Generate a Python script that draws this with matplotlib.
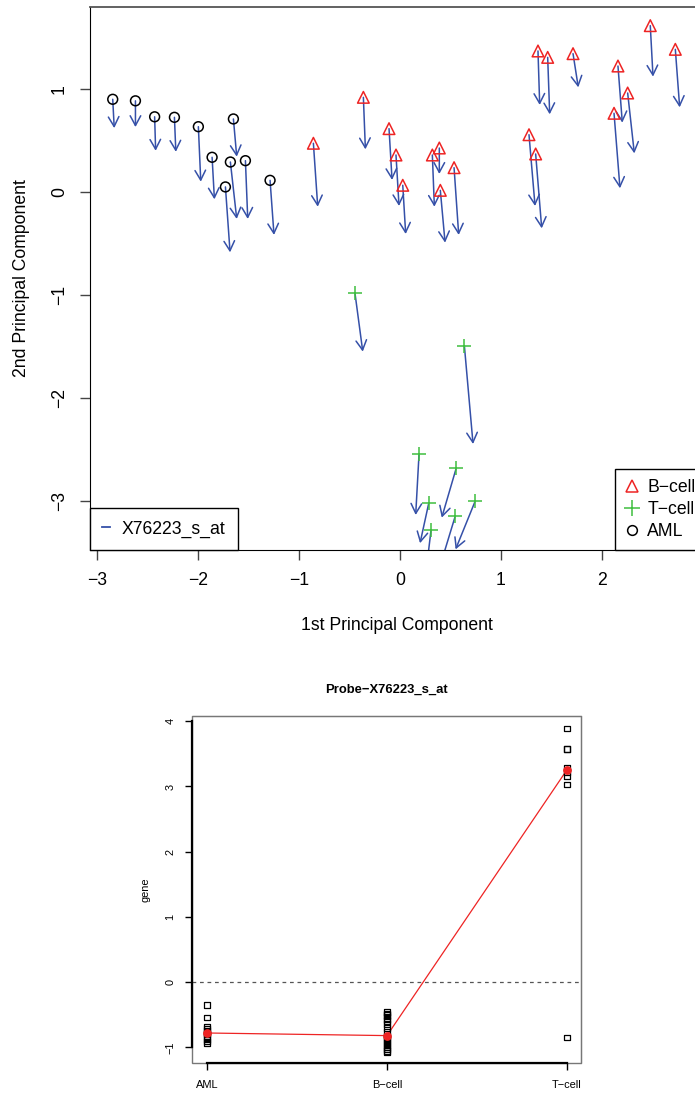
import numpy as np
import matplotlib
matplotlib.use('Agg')
import matplotlib.pyplot as plt
from matplotlib.patches import FancyArrowPatch, Rectangle
from matplotlib.lines import Line2D

plt.rcParams['font.family'] = ['Liberation Sans', 'DejaVu Sans']
plt.rcParams['axes.unicode_minus'] = True

# --- PCA scores ---
aml_pc1 = [-2.845, -2.62, -2.43, -2.234, -1.997, -1.65, -1.861, -1.680, -1.531, -1.729, -1.287]
aml_pc2 = [0.90, 0.885, 0.73, 0.725, 0.634, 0.709, 0.337, 0.291, 0.304, 0.049, 0.113]
aml_end1 = [-2.83, -2.62, -2.42, -2.22, -1.973, -1.617, -1.838, -1.617, -1.508, -1.683, -1.248]
aml_end2 = [0.62, 0.63, 0.40, 0.39, 0.10, 0.343, -0.071, -0.262, -0.262, -0.586, -0.417]

bcell_pc1 = [-0.858, -0.363, -0.109, -0.040, 0.027, 0.320, 0.389, 0.399, 0.535, 1.277,
             1.343, 1.366, 1.462, 1.713, 2.158, 2.254, 2.119, 2.478, 2.726]
bcell_pc2 = [0.473, 0.919, 0.615, 0.359, 0.065, 0.359, 0.427, 0.016, 0.236, 0.556,
             0.369, 1.369, 1.307, 1.343, 1.223, 0.961, 0.764, 1.615, 1.385]
bcell_end1 = [-0.815, -0.343, -0.079, -0.010, 0.056, 0.340, 0.389, 0.446, 0.581, 1.337,
              1.403, 1.383, 1.482, 1.765, 2.201, 2.320, 2.178, 2.505, 2.769]
bcell_end2 = [-0.143, 0.414, 0.117, -0.136, -0.408, -0.143, 0.175, -0.492, -0.417, -0.136,
              -0.353, 0.845, 0.754, 1.016, 0.673, 0.375, 0.036, 1.12, 0.822]

tcell_pc1 = [-0.446, 0.637, 0.188, 0.558, 0.284, 0.746, 0.548, 0.307]
tcell_pc2 = [-0.984, -1.492, -2.547, -2.676, -3.023, -2.997, -3.143, -3.282]
tcell_end1 = [-0.369, 0.723, 0.155, 0.413, 0.198, 0.55, 0.40, 0.25]
tcell_end2 = [-1.55, -2.447, -3.136, -3.162, -3.41, -3.47, -3.62, -3.75]

probe = 'X76223_s_at'

# --- expression of the probe per class ---
classes = ['AML', 'B\u2212cell', 'T\u2212cell']
aml_expr = [-0.35, -0.54, -0.68, -0.72, -0.75, -0.78, -0.80, -0.84, -0.88, -0.91, -0.94]
bcell_expr = [-0.46, -0.48, -0.50, -0.53, -0.57, -0.60, -0.64, -0.70, -0.76, -0.82,
              -0.85, -0.88, -0.91, -0.94, -0.97, -1.00, -1.03, -1.06, -1.08]
tcell_expr = [-0.85, 3.03, 3.16, 3.22, 3.29, 3.57, 3.57, 3.89]

RED = '#EE2424'
GREEN = '#3FBF3F'
BLUE = '#3550A8'

fig = plt.figure(figsize=(6.95, 10.94), dpi=100)

# ---------------- top: PCA with arrows ----------------
ax = fig.add_axes([90 / 695, 1 - 550 / 1094, 613 / 695, 543 / 1094])

groups = [(aml_pc1, aml_pc2, aml_end1, aml_end2),
          (bcell_pc1, bcell_pc2, bcell_end1, bcell_end2),
          (tcell_pc1, tcell_pc2, tcell_end1, tcell_end2)]
for x0, y0, x1, y1 in groups:
    for a, b, c, d in zip(x0, y0, x1, y1):
        arr = FancyArrowPatch((a, b), (c, d), arrowstyle='->,head_length=0.7,head_width=0.38',
                              mutation_scale=10, color=BLUE, lw=1.1,
                              shrinkA=0, shrinkB=0)
        ax.add_patch(arr)

ax.scatter(bcell_pc1, bcell_pc2, marker='^', s=70, facecolors='none', edgecolors=RED,
           linewidths=1.1, zorder=3)
ax.scatter(tcell_pc1, tcell_pc2, marker='+', s=110, color=GREEN, linewidths=1.1, zorder=3)
ax.scatter(aml_pc1, aml_pc2, marker='o', s=50, facecolors='none', edgecolors='black',
           linewidths=1.1, zorder=3)

ax.set_xlim(-3.07, 3.0)
ax.set_ylim(-3.476, 1.796)
ax.set_xticks([-3, -2, -1, 0, 1, 2])
ax.set_yticks([-3, -2, -1, 0, 1])
ax.tick_params(length=7, width=1, labelsize=12.7, pad=9, color='#444444')
for lab in ax.get_yticklabels():
    lab.set_rotation(90)
    lab.set_va('center')
ax.set_xlabel('1st Principal Component', fontsize=12.7, labelpad=20)
ax.set_ylabel('2nd Principal Component', fontsize=12.7, labelpad=15)
for s in ['top', 'right']:
    ax.spines[s].set_color('#555555')
    ax.spines[s].set_linewidth(1.3)

h1 = [Line2D([], [], color=BLUE, lw=1.3)]
leg1 = ax.legend(h1, [probe], loc='lower left', borderaxespad=0, fancybox=False,
                 edgecolor='black', framealpha=1, fontsize=12.7, handlelength=0.45,
                 handletextpad=0.65, borderpad=0.7)
leg1.get_frame().set_linewidth(1.0)
ax.add_artist(leg1)

h2 = [Line2D([], [], marker='^', ls='none', mfc='none', mec=RED, ms=9, mew=1.1),
      Line2D([], [], marker='+', ls='none', color=GREEN, ms=11, mew=1.1),
      Line2D([], [], marker='o', ls='none', mfc='none', mec='black', ms=7, mew=1.1)]
leg2 = ax.legend(h2, ['B\u2212cell', 'T\u2212cell', 'AML'],
                 loc='lower right', bbox_to_anchor=(1.0 + 2 / 613, 0.0),
                 borderaxespad=0, fancybox=False, edgecolor='black',
                 framealpha=1, fontsize=12.7, handlelength=0.75, handletextpad=0.5,
                 labelspacing=0.3, borderpad=0.55)
leg2.get_frame().set_linewidth(1.0)

# ---------------- bottom: probe expression ----------------
bx = fig.add_axes([192 / 695, 1 - 1063 / 1094, 389 / 695, 347 / 1094])
exprs = [aml_expr, bcell_expr, tcell_expr]
meds = [np.median(e) for e in exprs]
for i, e in enumerate(exprs):
    bx.scatter(np.full(len(e), i + 1), e, marker='s', s=16, facecolors='none',
               edgecolors='black', linewidths=0.9, zorder=3)
bx.plot([1, 2, 3], meds, color=RED, lw=0.9, zorder=2)
bx.scatter([1, 2, 3], meds, color=RED, s=28, zorder=4)
bx.axhline(0, color='#555555', lw=0.9, ls=(0, (3, 3)), zorder=1)

bx.set_xlim(0.917, 3.078)
bx.set_ylim(-1.24, 4.08)
bx.set_xticks([1, 2, 3])
bx.set_xticklabels(classes)
bx.set_yticks([-1, 0, 1, 2, 3, 4])
bx.tick_params(length=5, width=1, labelsize=7.9, pad=7)
for lab in bx.get_yticklabels():
    lab.set_rotation(90)
    lab.set_va('center')
bx.set_ylabel('gene', fontsize=7.9, labelpad=11)
bx.set_title('Probe\u2212' + probe, fontsize=9.4, fontweight='bold', pad=17)

for s in ['top', 'right']:
    bx.spines[s].set_color('#777777')
for s in ['left', 'bottom']:
    bx.spines[s].set_linewidth(1.6)
bx.spines['bottom'].set_bounds(1, 3)
bx.spines['left'].set_bounds(-1, 4)
bx.add_patch(Rectangle((0, 0), 1, 1, transform=bx.transAxes, fill=False,
                       edgecolor='#777777', lw=1.0, zorder=0, clip_on=False))

fig.savefig('out.png', dpi=100)
